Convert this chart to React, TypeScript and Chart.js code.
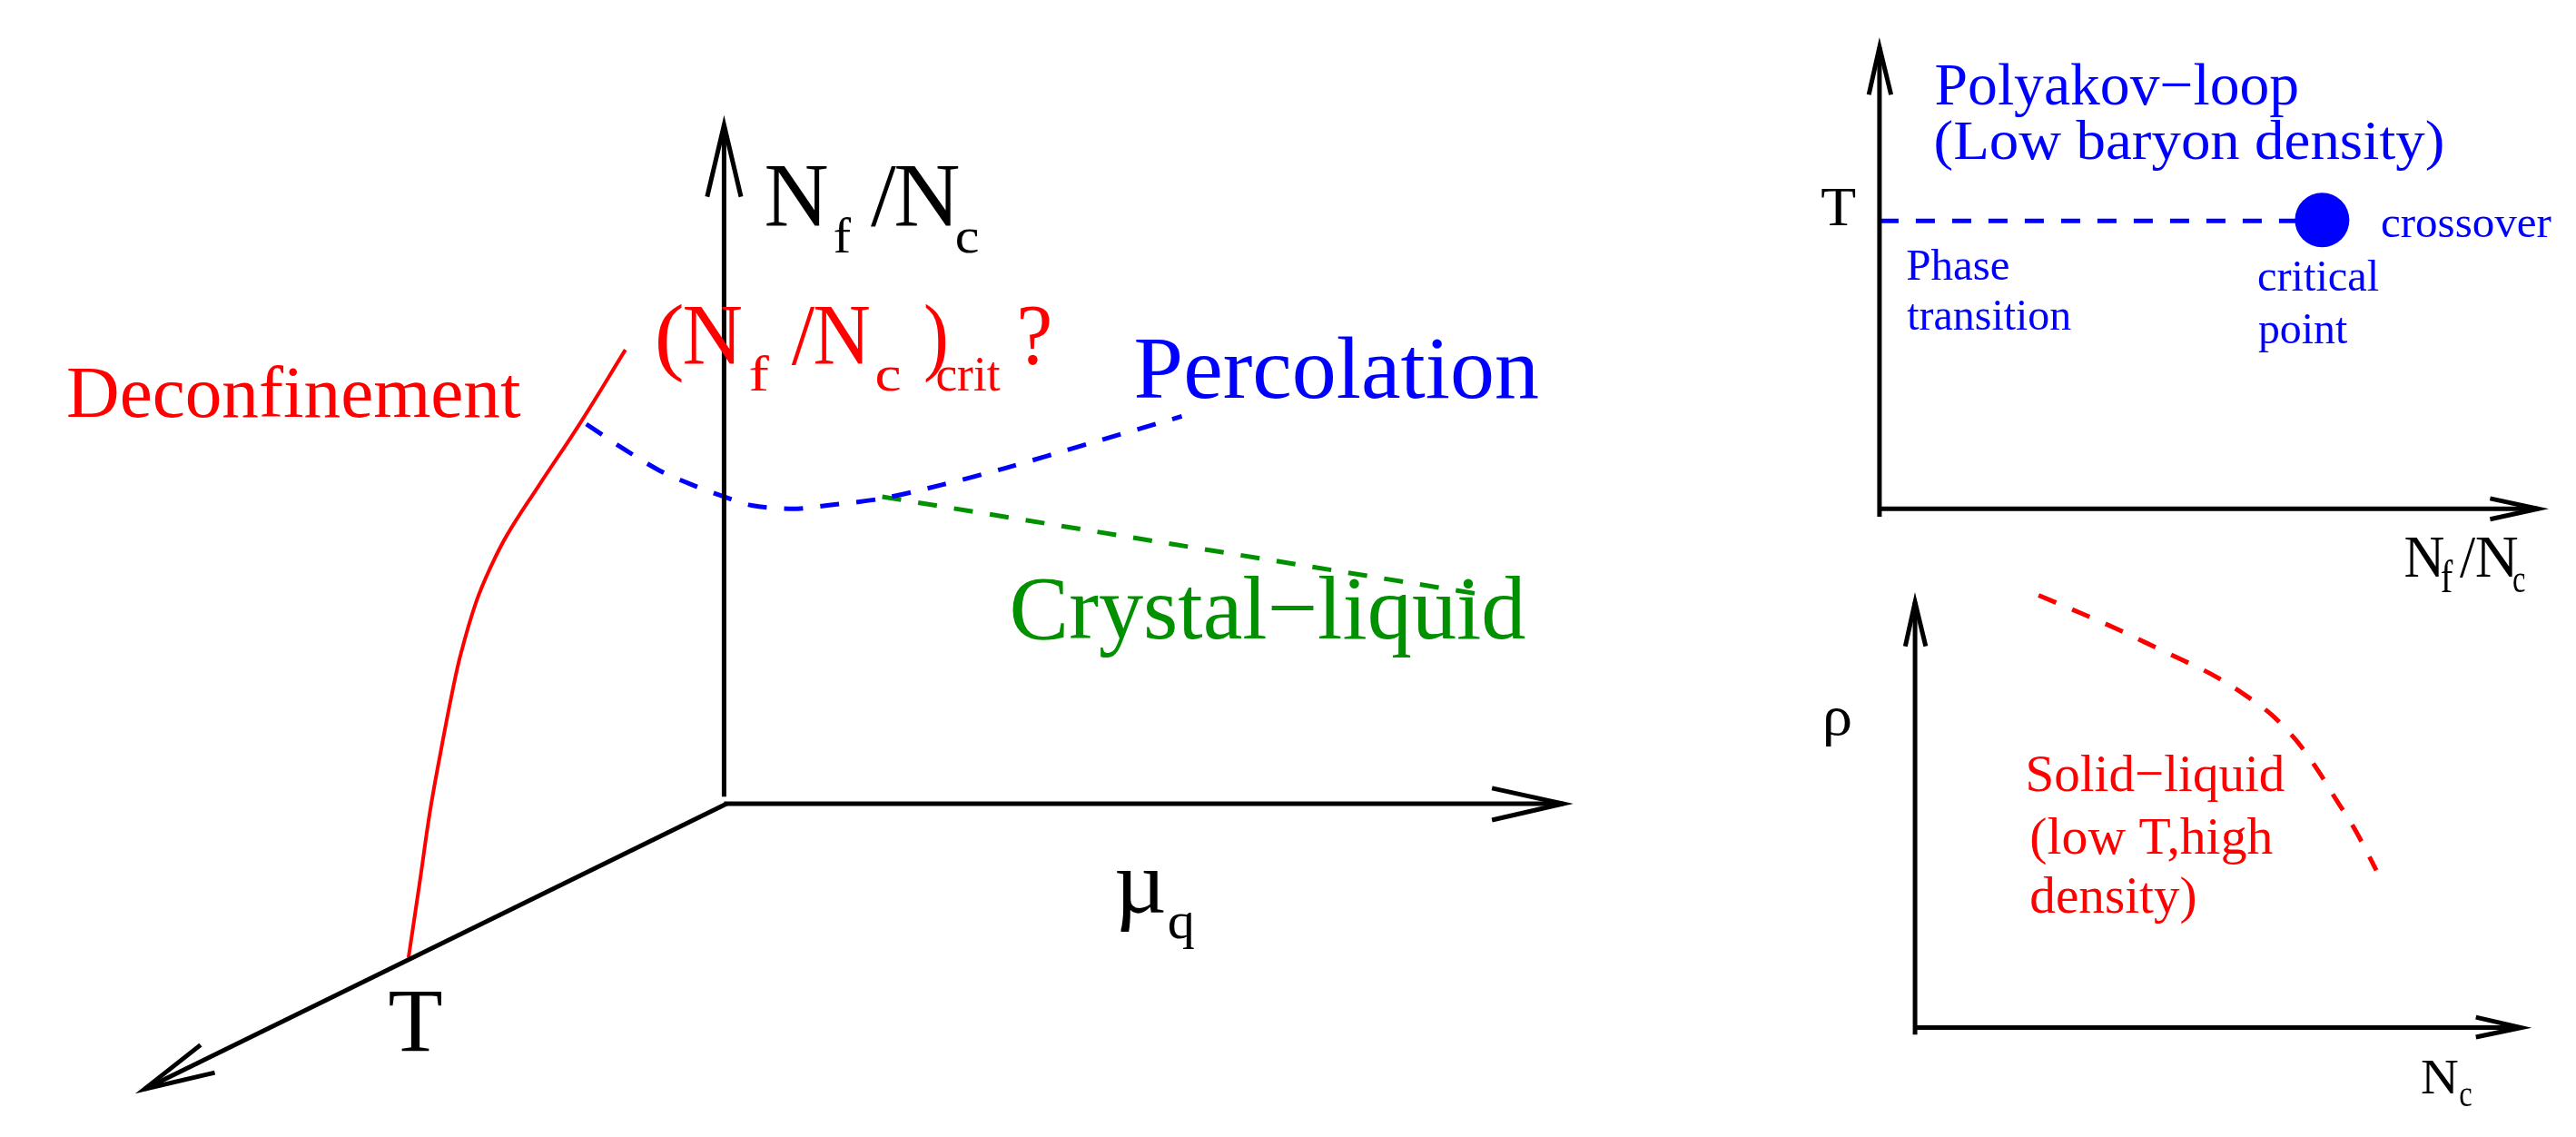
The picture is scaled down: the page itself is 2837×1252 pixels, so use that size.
import React, { useEffect, useRef } from "react";
import { Chart, registerables } from "chart.js";

Chart.register(...registerables);

// ---------- Diagram data (schematic units: left→right, top→bottom) ----------
// Main 3-axis diagram
const nfAxisX = [784, 784];
const nfAxisY = [890, 113];
const nfArrowX = [765, 784, 803];
const nfArrowY = [196, 113, 196];
const muAxisX = [784, 1728];
const muAxisY = [898, 898];
const muArrowX = [1648, 1728, 1648];
const muArrowY = [880, 898, 917];
const tAxisX = [787, 132];
const tAxisY = [898, 1228];
const tArrowX = [195, 132, 211];
const tArrowY = [1177, 1228, 1209];

const deconfX = [673, 622, 575, 540, 522, 505, 488, 478, 465, 453, 442, 429];
const deconfY = [373, 458, 531, 587, 623, 665, 724, 770, 839, 908, 986, 1076];

const percolX = [629, 670, 712, 750, 784, 815, 861, 900, 962, 1030, 1100, 1193, 1299];
const percolY = [459, 487, 513, 530, 543, 553, 557, 553, 545, 529, 510, 482, 450];

const crystalX = [962, 1630];
const crystalY = [543, 655];

// Top-right panel (T vs Nf/Nc)
const trAxisVX = [2084, 2084];
const trAxisVY = [566, 23];
const trArrowVX = [2072, 2084, 2097];
const trArrowVY = [78, 23, 78];
const trAxisHX = [2084, 2825];
const trAxisHY = [557, 557];
const trArrowHX = [2771, 2825, 2771];
const trArrowHY = [545, 557, 569];
const polyakovX = [2084, 2555];
const polyakovY = [224, 224];
const critPointX = [2582];
const critPointY = [223];

// Bottom-right panel (rho vs Nc)
const brAxisVX = [2124, 2124];
const brAxisVY = [1165, 665];
const brArrowVX = [2113, 2124, 2136];
const brArrowVY = [716, 665, 716];
const brAxisHX = [2124, 2806];
const brAxisHY = [1157, 1157];
const brArrowHX = [2755, 2806, 2755];
const brArrowHY = [1145, 1157, 1168];
const solidX = [2263, 2309, 2347, 2384, 2421, 2457, 2492, 2525, 2553, 2577, 2597, 2619, 2643];
const solidY = [657, 677, 694, 712, 730, 748, 770, 795, 825, 859, 892, 928, 975];

// Text labels: text, left x, baseline y, font size, colour, ink width
const labelTexts = [
  "N", "f", "/", "N", "c",
  "(", "N", "f", "/", "N", "c", ")", "crit", "?",
  "Deconfinement", "Percolation", "Crystal\u2212liquid",
  "\u00b5", "q", "T",
  "Polyakov\u2212loop", "(Low baryon density)", "T",
  "Phase", "transition", "critical", "point", "crossover",
  "N", "f", "/", "N", "c",
  "\u03c1", "Solid\u2212liquid", "(low T,high", "density)",
  "N", "c",
];
const labelX = [
  831, 908, 949, 977, 1046,
  710, 739, 813, 860, 886, 956, 1011, 1024, 1117,
  46, 1247, 1109,
  1226, 1285, 407,
  2147, 2147, 2019,
  2115, 2115, 2510, 2510, 2649,
  2675, 2716, 2737, 2755, 2797,
  2024, 2251, 2255, 2255,
  2694, 2737,
];
const labelY = [
  229, 260, 229, 229, 260,
  390, 390, 420, 390, 390, 420, 390, 420, 390,
  451, 429, 707,
  1024, 1053, 1184,
  89, 152, 229,
  292, 350, 305, 365, 243,
  635, 653, 635, 635, 653,
  818, 883, 956, 1024,
  1233, 1248,
];
const labelSize = [
  100, 55, 100, 100, 55,
  95, 95, 55, 95, 95, 55, 95, 55, 95,
  81, 97, 100,
  100, 58, 100,
  65, 62, 62,
  48, 48, 48, 48, 48,
  65, 50, 65, 65, 45,
  62, 58, 58, 58,
  55, 40,
];
const labelColor = [
  "#000", "#000", "#000", "#000", "#000",
  "#f00", "#f00", "#f00", "#f00", "#f00", "#f00", "#f00", "#f00", "#f00",
  "#f00", "#00f", "#009000",
  "#000", "#000", "#000",
  "#00f", "#00f", "#000",
  "#00f", "#00f", "#00f", "#00f", "#00f",
  "#000", "#000", "#000", "#000", "#000",
  "#000", "#f00", "#f00", "#f00",
  "#000", "#000",
];
const labelWidth = [
  67, 19, 28, 69, 23,
  26, 63, 22, 26, 60, 25, 22, 69, 33,
  499, 444, 564,
  52, 27, 58,
  398, 558, 37,
  112, 181, 133, 99, 187,
  43, 13, 18, 46, 13,
  27, 283, 266, 180,
  40, 13,
];

const zip = (xs: number[], ys: number[]) => xs.map((x, i) => ({ x, y: ys[i] }));

const FONT = '"Liberation Serif", "Times New Roman", serif';

const textPlugin = {
  id: "diagramText",
  afterDatasetsDraw(chart: any) {
    const { ctx, scales } = chart;
    const sx = scales.x;
    const sy = scales.y;
    ctx.save();
    ctx.textAlign = "left";
    ctx.textBaseline = "alphabetic";
    labelTexts.forEach((t, i) => {
      const px = sx.getPixelForValue(labelX[i]);
      const py = sy.getPixelForValue(labelY[i]);
      ctx.font = `${labelSize[i]}px ${FONT}`;
      ctx.fillStyle = labelColor[i];
      const m = ctx.measureText(t);
      const ink = m.actualBoundingBoxLeft + m.actualBoundingBoxRight;
      let k = ink > 0 ? labelWidth[i] / ink : 1;
      k = Math.max(0.6, Math.min(1.5, k));
      ctx.save();
      ctx.translate(px, py);
      ctx.scale(k, 1);
      ctx.fillText(t, m.actualBoundingBoxLeft, 0);
      ctx.restore();
    });
    ctx.restore();
  },
};

function line(xs: number[], ys: number[], color: string, width: number, opts: any = {}) {
  return {
    data: zip(xs, ys),
    showLine: true,
    borderColor: color,
    borderWidth: width,
    pointRadius: 0,
    fill: false,
    clip: false,
    borderJoinStyle: "miter",
    ...opts,
  };
}

export default function App() {
  const ref = useRef<HTMLCanvasElement | null>(null);

  useEffect(() => {
    document.body.style.margin = "0";
    document.body.style.overflow = "hidden";
    if (!ref.current) return;
    const black = "#000";
    const dash = [21, 19];
    const chart = new Chart(ref.current, {
      type: "scatter",
      data: {
        datasets: [
          line(nfAxisX, nfAxisY, black, 5),
          line(nfArrowX, nfArrowY, black, 5),
          line(muAxisX, muAxisY, black, 5),
          line(muArrowX, muArrowY, black, 5),
          line(tAxisX, tAxisY, black, 5),
          line(tArrowX, tArrowY, black, 5),
          line(deconfX, deconfY, "#f00", 4, { tension: 0.4 }),
          line(percolX, percolY, "#00f", 5, { tension: 0.3, borderDash: dash }),
          line(crystalX, crystalY, "#009000", 5, { borderDash: dash }),
          line(trAxisVX, trAxisVY, black, 5),
          line(trArrowVX, trArrowVY, black, 5),
          line(trAxisHX, trAxisHY, black, 5),
          line(trArrowHX, trArrowHY, black, 5),
          line(polyakovX, polyakovY, "#00f", 5, { borderDash: dash }),
          {
            data: zip(critPointX, critPointY),
            showLine: false,
            pointRadius: 30,
            pointBackgroundColor: "#00f",
            pointBorderWidth: 0,
            clip: false,
          },
          line(brAxisVX, brAxisVY, black, 5),
          line(brArrowVX, brArrowVY, black, 5),
          line(brAxisHX, brAxisHY, black, 5),
          line(brArrowHX, brArrowHY, black, 5),
          line(solidX, solidY, "#f00", 5, { tension: 0.3, borderDash: dash }),
        ] as any,
      },
      options: {
        responsive: false,
        maintainAspectRatio: false,
        devicePixelRatio: 1,
        animation: false,
        events: [],
        layout: { padding: 0 },
        plugins: { legend: { display: false }, tooltip: { enabled: false } },
        scales: {
          x: { type: "linear", min: 0, max: 2837, display: false },
          y: { type: "linear", min: 0, max: 1252, reverse: true, display: false },
        },
      },
      plugins: [textPlugin],
    } as any);
    return () => chart.destroy();
  }, []);

  return (
    <div style={{ position: "absolute", left: 0, top: 0, width: 2837, height: 1252, background: "#fff" }}>
      <canvas ref={ref} width={2837} height={1252} style={{ display: "block", width: 2837, height: 1252 }} />
    </div>
  );
}
